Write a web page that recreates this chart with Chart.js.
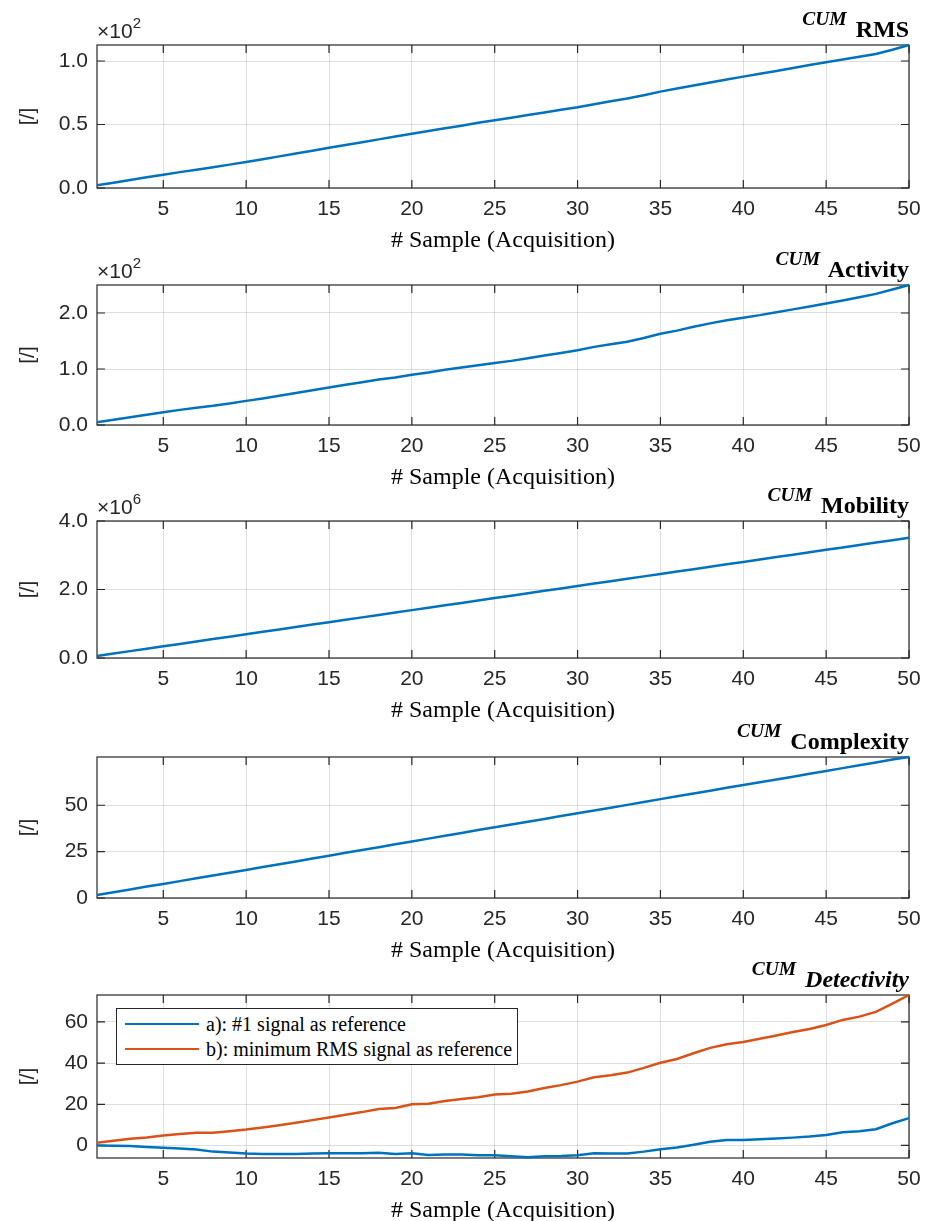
<!DOCTYPE html>
<html lang="en">
<head>
<meta charset="UTF-8">
<title>Cumulative signal features</title>
<script src="https://cdn.jsdelivr.net/npm/chart.js"></script>
<style>
  body { margin: 0; background: #fff; }
  #page { position: relative; width: 926px; height: 1221px; overflow: hidden; background: #fff; }
  .panel { position: absolute; left: 0; }
  .panel canvas { display: block; }
  .ttl {
    position: absolute; right: 17px;
    font-family: 'Liberation Serif', 'Times New Roman', serif;
    font-weight: bold; font-size: 24px; line-height: 1; color: #000; white-space: nowrap;
  }
  .ttl .cum { font-style: italic; font-size: 19.5px; position: relative; top: -12px; margin-right: 3px; }
  .ttl .it { font-style: italic; }
  .expo {
    position: absolute; left: 97px;
    font-family: 'Liberation Sans', Arial, sans-serif;
    font-size: 21px; line-height: 1; color: #262626;
  }
  .expo sup { font-size: 15px; position: relative; top: -5px; vertical-align: top; }
  .legend {
    position: absolute; left: 116px; top: 1008px; width: 400px; height: 55px;
    border: 1px solid #262626; background: #fff;
    font-family: 'Liberation Serif', 'Times New Roman', serif; font-size: 20px; color: #000;
  }
  .legend .row { position: absolute; left: 8px; height: 24px; display: flex; align-items: center; white-space: nowrap; }
  .legend .sw { width: 74px; height: 2.5px; margin-right: 7px; }
</style>
</head>
<body>
<div id="page"></div>
<script>
  // samples on the x axis
  const samples = Array.from({ length: 50 }, (_, i) => i + 1);
  const xTicks = [5, 10, 15, 20, 25, 30, 35, 40, 45, 50];

  // cumulative RMS
  const rmsCum = [2.1, 4.2, 6.3, 8.4, 10.5, 12.5, 14.4, 16.4, 18.4, 20.4,
                  22.6, 24.9, 27.1, 29.4, 31.7, 33.9, 36.1, 38.3, 40.5, 42.7,
                  44.8, 47.0, 49.1, 51.3, 53.4, 55.4, 57.5, 59.5, 61.6, 63.6,
                  66.0, 68.3, 70.5, 73.1, 75.9, 78.3, 80.7, 83.0, 85.4, 87.7,
                  90.0, 92.2, 94.5, 96.8, 99.0, 101.2, 103.4, 105.5, 108.9, 112.6];
  const rmsTicks = [0, 50, 100];

  // cumulative activity
  const activityCum = [4.8, 9.3, 13.8, 18.3, 22.8, 27.0, 30.8, 34.2, 38.5, 43.1,
                       47.5, 52.3, 57.0, 62.0, 67.1, 71.8, 76.5, 81.2, 84.8, 89.8,
                       93.8, 98.5, 102.5, 106.8, 110.8, 114.5, 119.2, 124.0, 128.5, 133.5,
                       139.5, 144.0, 148.5, 155.5, 162.9, 168.5, 175.5, 181.5, 187.0, 191.6,
                       196.2, 201.5, 206.5, 211.5, 216.8, 222.5, 228.0, 234.1, 242.0, 250.0];
  const activityTicks = [0, 100, 200];

  // cumulative mobility
  const mobilityCum = [0.060e6, 0.130e6, 0.201e6, 0.271e6, 0.342e6, 0.412e6, 0.482e6, 0.553e6, 0.623e6, 0.694e6,
                       0.764e6, 0.834e6, 0.905e6, 0.975e6, 1.046e6, 1.116e6, 1.186e6, 1.257e6, 1.327e6, 1.398e6,
                       1.468e6, 1.538e6, 1.609e6, 1.679e6, 1.750e6, 1.820e6, 1.890e6, 1.961e6, 2.031e6, 2.102e6,
                       2.172e6, 2.242e6, 2.313e6, 2.383e6, 2.454e6, 2.524e6, 2.594e6, 2.665e6, 2.735e6, 2.806e6,
                       2.876e6, 2.946e6, 3.017e6, 3.087e6, 3.158e6, 3.228e6, 3.298e6, 3.369e6, 3.439e6, 3.510e6];
  const mobilityTicks = [0, 2e6, 4e6];

  // cumulative complexity
  const complexityCum = [1.6, 3.1, 4.6, 6.2, 7.6, 9.1, 10.6, 12.1, 13.6, 15.1,
                         16.7, 18.2, 19.7, 21.3, 22.8, 24.4, 25.9, 27.4, 29.0, 30.5,
                         32.0, 33.5, 35.0, 36.6, 38.1, 39.6, 41.1, 42.6, 44.2, 45.7,
                         47.2, 48.7, 50.2, 51.8, 53.3, 54.8, 56.3, 57.8, 59.4, 60.9,
                         62.4, 63.9, 65.4, 67.0, 68.5, 70.0, 71.5, 73.0, 74.6, 76.0];
  const complexityTicks = [0, 25, 50];

  // cumulative detectivity, two reference choices
  const detectRef1 = [0, -0.2, -0.3, -0.7, -1.1, -1.5, -2.0, -3.0, -3.4, -3.9,
                      -4.1, -4.1, -4.1, -3.9, -3.8, -3.8, -3.8, -3.6, -4.1, -3.8,
                      -4.6, -4.4, -4.4, -4.8, -4.8, -5.2, -5.7, -5.2, -5.1, -4.8,
                      -3.8, -3.9, -3.9, -3.0, -1.8, -1.0, 0.3, 1.8, 2.6, 2.6,
                      3.0, 3.4, 3.8, 4.3, 5.1, 6.4, 6.9, 7.9, 10.8, 13.3];
  const detectRefMinRms = [1.3, 2.3, 3.3, 3.9, 4.8, 5.6, 6.2, 6.2, 6.9, 7.7,
                           8.7, 9.8, 11.0, 12.3, 13.6, 14.9, 16.2, 17.7, 18.2, 20.0,
                           20.3, 21.6, 22.6, 23.4, 24.8, 25.1, 26.2, 27.9, 29.3, 31.0,
                           33.1, 34.1, 35.4, 37.7, 40.2, 42.0, 44.8, 47.4, 49.2, 50.3,
                           51.8, 53.4, 55.1, 56.6, 58.5, 61.0, 62.6, 64.9, 68.9, 73.1];
  const detectTicks = [0, 20, 40, 60];

  const BLUE = '#0072BD';
  const ORANGE = '#D95319';
  const AXIS = '#262626';
  const GRID = 'rgba(38,38,38,0.15)';
  const SANS = "'Liberation Sans', Arial, sans-serif";
  const SERIF = "'Liberation Serif', 'Times New Roman', serif";

  const panels = [
    { top: 45, bottom: 188, min: 0, max: 112.6, ticks: rmsTicks, fmt: v => (v / 100).toFixed(1), expo: '2',
      title: 'RMS', series: [{ label: 'RMS', data: rmsCum, color: BLUE }] },
    { top: 285, bottom: 425, min: 0, max: 250, ticks: activityTicks, fmt: v => (v / 100).toFixed(1), expo: '2',
      title: 'Activity', series: [{ label: 'Activity', data: activityCum, color: BLUE }] },
    { top: 521, bottom: 658, min: 0, max: 4e6, ticks: mobilityTicks, fmt: v => (v / 1e6).toFixed(1), expo: '6',
      title: 'Mobility', series: [{ label: 'Mobility', data: mobilityCum, color: BLUE }] },
    { top: 757, bottom: 898, min: 0, max: 76, ticks: complexityTicks, fmt: v => String(v),
      title: 'Complexity', series: [{ label: 'Complexity', data: complexityCum, color: BLUE }] },
    { top: 995, bottom: 1158, min: -6.1, max: 73.1, ticks: detectTicks, fmt: v => String(v),
      title: 'Detectivity', italic: true, legend: true,
      series: [{ label: 'a): #1 signal as reference', data: detectRef1, color: BLUE },
               { label: 'b): minimum RMS signal as reference', data: detectRefMinRms, color: ORANGE }] }
  ];

  // box around the axes with inward tick marks on all four sides
  const axesBox = {
    id: 'axesBox',
    beforeDatasetsDraw(chart) {
      const { ctx, chartArea: a, scales: { x, y } } = chart;
      const L = 8;
      ctx.save();
      ctx.strokeStyle = AXIS;
      ctx.lineWidth = 1.2;
      ctx.beginPath();
      x.ticks.forEach(t => {
        const px = x.getPixelForValue(t.value);
        ctx.moveTo(px, a.bottom); ctx.lineTo(px, a.bottom - L);
        ctx.moveTo(px, a.top); ctx.lineTo(px, a.top + L);
      });
      y.ticks.forEach(t => {
        const py = y.getPixelForValue(t.value);
        ctx.moveTo(a.left, py); ctx.lineTo(a.left + L, py);
        ctx.moveTo(a.right, py); ctx.lineTo(a.right - L, py);
      });
      ctx.stroke();
      ctx.strokeRect(a.left, a.top, a.right - a.left, a.bottom - a.top);
      ctx.restore();
    }
  };

  const page = document.getElementById('page');
  const PAD_TOP = 30;    // room for the top tick label so the plot area starts where set
  const AXIS_H = 75;
  const CANVAS_W = 950;  // wider than the page so the last x label never squeezes the plot
  const AREA_RIGHT = 909;

  function addPanel(p) {
    const h = p.bottom - p.top + PAD_TOP + AXIS_H;
    const wrap = document.createElement('div');
    wrap.className = 'panel';
    wrap.style.top = (p.top - PAD_TOP) + 'px';
    wrap.style.width = CANVAS_W + 'px';
    wrap.style.height = h + 'px';
    const canvas = document.createElement('canvas');
    canvas.width = CANVAS_W;
    canvas.height = h;
    wrap.appendChild(canvas);
    page.appendChild(wrap);

    // title with the CUM prefix
    const ttl = document.createElement('div');
    ttl.className = 'ttl';
    ttl.style.top = (p.top - 28) + 'px';
    ttl.innerHTML = '<span class="cum">CUM</span> ' +
      (p.italic ? '<span class="it">' + p.title + '</span>' : p.title);
    page.appendChild(ttl);

    if (p.expo) {
      const ex = document.createElement('div');
      ex.className = 'expo';
      ex.style.top = (p.top - 25) + 'px';
      ex.innerHTML = '&times;10<sup>' + p.expo + '</sup>';
      page.appendChild(ex);
    }

    const chart = new Chart(canvas, {
      type: 'line',
      data: {
        datasets: p.series.map(s => ({
          label: s.label,
          data: samples.map((x, i) => ({ x, y: s.data[i] })),
          borderColor: s.color,
          backgroundColor: s.color,
          borderWidth: 2.5,
          pointRadius: 0,
          tension: 0,
          fill: false,
          clip: false
        }))
      },
      options: {
        responsive: false,
        animation: false,
        events: [],
        layout: { padding: { top: PAD_TOP, right: CANVAS_W - AREA_RIGHT, left: 0, bottom: 0 } },
        plugins: { legend: { display: false }, tooltip: { enabled: false } },
        scales: {
          x: {
            type: 'linear', min: 1, max: 50,
            afterBuildTicks: s => { s.ticks = xTicks.map(v => ({ value: v })); },
            afterFit: s => { s.height = AXIS_H; },
            ticks: { color: AXIS, font: { family: SANS, size: 21 }, padding: 9,
                     autoSkip: false, maxRotation: 0, callback: v => String(v) },
            grid: { color: GRID, lineWidth: 1, drawTicks: false },
            border: { display: false },
            title: { display: true, text: '# Sample (Acquisition)', color: '#000',
                     font: { family: SERIF, size: 24, lineHeight: 1.2 }, padding: { top: 0, bottom: 8 } }
          },
          y: {
            type: 'linear', min: p.min, max: p.max,
            afterBuildTicks: s => { s.ticks = p.ticks.map(v => ({ value: v })); },
            afterFit: s => { s.width = 97; },
            ticks: { color: AXIS, font: { family: SANS, size: 21 }, padding: 9, callback: v => p.fmt(v) },
            grid: { color: GRID, lineWidth: 1, drawTicks: false },
            border: { display: false },
            title: { display: true, text: '[/]', color: AXIS,
                     font: { family: SANS, size: 21, lineHeight: 1.2 }, padding: { top: 16, bottom: 0 } }
          }
        }
      },
      plugins: [axesBox]
    });

    if (p.legend) {
      const lg = document.createElement('div');
      lg.className = 'legend';
      chart.data.datasets.forEach((ds, i) => {
        const row = document.createElement('div');
        row.className = 'row';
        row.style.top = (3 + i * 25) + 'px';
        row.innerHTML = '<span class="sw" style="background:' + ds.borderColor + '"></span><span>' + ds.label + '</span>';
        lg.appendChild(row);
      });
      page.appendChild(lg);
    }
  }

  panels.forEach(addPanel);
</script>
</body>
</html>
